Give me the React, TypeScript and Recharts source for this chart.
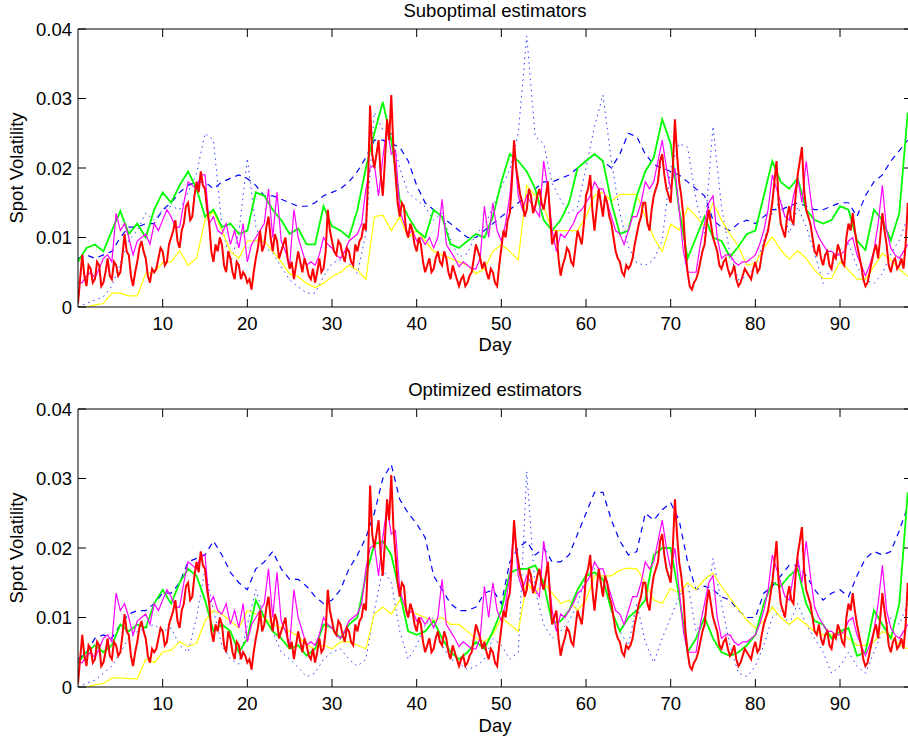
import React from 'react';
import { LineChart, Line, XAxis, YAxis, ReferenceLine } from 'recharts';

// x positions: whole days for the smooth estimators, finer steps for the noisy ones
const DAYS = Array.from({ length: 99 }, (_, i) => i);
const HALF_DAYS = Array.from({ length: 197 }, (_, i) => i / 2);
const QUARTER_DAYS = Array.from({ length: 393 }, (_, i) => i / 4);

const X_TICKS = [10, 20, 30, 40, 50, 60, 70, 80, 90];
const Y_TICKS = [0, 0.01, 0.02, 0.03, 0.04];

// all values below are in units of 0.001

// realized volatility, shared by both panels (quarter-day steps)
const RED = [
  0.5, 4, 7.5, 4.5, 3, 6, 5.5, 3.5, 4, 6.5, 6, 3, 3.5, 5, 7, 4.5, 4, 6.5, 6, 4.5,
  5, 7.5, 10.5, 8, 7.5, 4.5, 3, 5, 6.5, 8.5, 9.5, 8, 7, 4.5, 3.5, 5.5, 5, 5.5, 7, 8.5,
  8, 6, 6.5, 9, 10, 11, 12.5, 9.5, 8.5, 11, 12, 14.5, 15, 12.5, 13, 16, 18, 16.5, 19.5, 17.5,
  17, 14, 12, 8, 6.5, 9, 8, 10, 9, 6, 5, 8, 7, 5, 4, 6.5, 6, 4, 5, 4.5,
  3.5, 4, 2.5, 5, 7, 8.5, 11, 8, 9, 11.5, 13, 10, 8, 10.5, 9.5, 7, 8, 9, 10, 7,
  5.5, 6.5, 4, 6, 8, 6.5, 5, 7, 6, 4.5, 4, 5.5, 3.5, 5, 7, 5, 5.5, 8, 14, 11,
  9.5, 8, 7.5, 9.5, 9, 7.5, 6.5, 8.5, 8, 6.5, 6, 9, 8, 9.5, 10, 12, 11, 18, 29, 22,
  20, 22, 24, 19, 16, 21, 27, 24, 30.5, 23, 19, 15, 13, 15, 14.5, 11, 10, 12, 11, 9,
  8, 10, 9, 6.5, 5, 6, 7, 5, 5.5, 7, 8, 6.5, 6, 8, 7, 5, 4, 6, 5, 4,
  3, 4, 4.5, 3, 3.5, 4.5, 5, 7, 9, 8, 7, 5.5, 6.5, 5, 4, 5.5, 5, 3.5, 3, 6,
  8.5, 11, 10, 12.5, 13.5, 18, 24, 20, 18, 16, 15, 13, 14, 17, 16, 13.5, 14.5, 16, 17, 15,
  14, 16, 18, 13, 9, 10, 11, 7, 4.5, 6, 7, 8.5, 8, 6.5, 6, 8.5, 11, 10, 9, 12,
  16, 17, 19, 14, 11, 14, 17, 15, 13, 16, 15, 13, 12, 10, 8, 7, 6.5, 5, 4.5, 6,
  5.5, 6, 7, 9, 10.5, 12, 13, 15, 15, 12, 11, 14, 16, 17, 18, 21, 22, 19, 17, 16,
  15, 20, 27, 22, 18, 16, 13, 8, 5, 3, 2.5, 3.5, 4, 5, 6.5, 8, 9, 12, 14, 12,
  10, 9, 8, 6, 5.5, 6.5, 7, 5.5, 4.5, 5, 6, 4, 3, 3.5, 4.5, 5.5, 5, 4.5, 4, 5.5,
  6.5, 5, 5.5, 7.5, 9, 10, 11, 13, 15, 18, 21, 15, 12, 11, 10, 13, 14.5, 12.5, 12, 16,
  19, 21, 23, 17, 14, 13, 12, 10, 8, 7.5, 9, 7, 6, 7.5, 8, 6, 5.5, 7.5, 7, 9,
  8, 6.5, 6, 10, 12, 11, 13.5, 11, 9, 7.5, 6, 4, 3, 3.5, 5, 6.5, 8, 9, 7, 10,
  13.5, 11, 9, 6, 5, 6.5, 7, 5.5, 6, 7, 5.5, 9, 15,
];

// shared by both panels (half-day steps)
const MAGENTA = [
  3.5, 3.5, 4.5, 5, 4.2, 5.5, 7, 7.5, 6.5, 13.5,
  11, 12, 10, 7.5, 9.5, 10, 10.5, 9, 12, 11,
  12.5, 14, 13, 11.5, 11.5, 15, 18, 17.5, 17, 19,
  19, 12, 13, 11, 10.5, 12, 9, 11, 8.5, 12,
  6.5, 9, 10, 11, 12, 17, 10, 16.5, 9.5, 8,
  6, 14, 10, 8, 6, 6.5, 6, 7.5, 10, 9,
  8.5, 7.5, 7, 8, 9.5, 10, 10.5, 12, 17, 20,
  20.5, 16, 21.5, 26, 22, 22.5, 14, 12, 10.5, 11,
  9.5, 10, 9, 10, 8.5, 10, 15.5, 9, 8, 7,
  5.8, 6.5, 6, 5.5, 5.5, 7, 14.5, 10, 15, 11,
  9.5, 12, 16, 23, 16, 14, 16, 15, 14, 13,
  21, 17, 11, 8, 10.5, 10, 11, 12, 13.5, 14,
  15, 16, 18, 17, 17, 15, 13, 11, 10.5, 9,
  11, 13, 13, 15, 18, 17, 18, 21, 24, 20,
  17, 20, 14, 8, 5, 5, 5, 9, 12, 15,
  16, 10, 7, 7.5, 7.5, 6.5, 6, 6.5, 6.5, 7,
  7.5, 9, 11, 14, 19, 17, 15, 13, 12.5, 16,
  18.5, 15, 21, 16, 11.5, 10, 9, 8, 8, 7.5,
  7.5, 8, 9.5, 10, 7.5, 6, 4.5, 6, 8, 12,
  17.5, 11, 8.5, 7.5, 7, 8, 9,
];

// suboptimal estimators (daily)
const SUB_DOTTED = [
  0, 0.5, 1, 1.5, 3, 6.3, 9.6, 11, 13.5, 12.5,
  14, 14.5, 14, 16.5, 19.2, 25, 24, 11.6, 6.3, 10.6,
  21.4, 11.6, 8.7, 7.7, 5.8, 3.9, 2.9, 2, 2, 4.4,
  6.3, 6.8, 6.3, 4.8, 10.6, 28, 25.5, 25, 20, 16.4,
  15.4, 14.4, 12.5, 13.5, 9.6, 7.2, 7.7, 10.6, 11.6, 14.4,
  17.3, 19.7, 25, 39, 24.5, 23.5, 17.8, 15.4, 13.5, 14.4,
  20, 26, 30.5, 21, 13.5, 8.7, 6.3, 6, 6.8, 9.6,
  20, 23.5, 23, 15.4, 10.6, 26, 14.4, 7.7, 3.9, 4.4,
  5.8, 9.6, 13.5, 15.4, 10.6, 14.4, 11.6, 7.7, 3.4, 5.8,
  8.2, 9.2, 5.8, 3.9, 3.4, 4.8, 7.7, 9.6, 13,
];

const SUB_DASHED = [
  7, 7.5, 7, 7.5, 8, 10, 11.5, 11.5, 12, 12,
  14, 15, 16.5, 17.5, 18, 18, 17, 18, 18.5, 19,
  18.5, 17.5, 16, 16, 15.5, 15, 14.5, 14.5, 15, 16,
  16.5, 17, 18, 19.5, 21.5, 24, 24, 23.5, 23, 21,
  17.5, 15, 14, 13, 12, 11, 10, 10, 11, 12,
  13, 14, 15, 16, 17, 18, 18, 18.5, 19, 20,
  21, 22, 21, 20, 22, 25, 24.5, 22, 20.5, 20,
  19.5, 19, 18, 17, 16, 12.5, 11.5, 11, 12, 12.5,
  12, 13, 14, 14, 14.5, 15, 14.5, 14, 14, 14.5,
  15, 15, 13, 16, 18, 19, 21, 22.5, 24,
];

const SUB_YELLOW = [
  0, 0, 0.3, 0.5, 2, 2, 1.6, 1.6, 4.8, 5,
  6.4, 6.5, 8.1, 6, 7, 12.5, 13.7, 11, 8, 7,
  9.5, 9.5, 9.5, 8, 6.5, 4.8, 4.4, 3.4, 2.8, 3.4,
  4.4, 5, 6, 5.3, 4, 13, 13.2, 11, 13, 10,
  11, 9.5, 8, 7.5, 7, 6.5, 6, 4.8, 5.5, 8,
  9, 8, 6.8, 17.5, 16, 14.5, 11, 11, 11, 11,
  13, 16, 16.5, 15.2, 16.2, 16.2, 16.2, 13, 10, 8,
  11.9, 11.1, 14.3, 13, 11.6, 15, 12.5, 10.5, 8.7, 6,
  6.3, 8.5, 10.1, 8.2, 6.9, 8.1, 7, 5.3, 4.1, 4.1,
  6.5, 5.3, 4, 4, 5.8, 7.7, 6.8, 5.5, 4.4,
];

const SUB_GREEN = [
  6.5, 8.5, 9, 8, 11, 13.8, 10.5, 12, 10, 14,
  16.5, 15, 17.5, 19.5, 17, 13, 14, 11.5, 12, 10.5,
  11, 16.5, 16, 14, 12.5, 10.5, 11.3, 9, 9, 14.5,
  11.6, 11, 10, 14, 20, 25, 29.5, 24, 15.5, 13,
  11, 10, 14, 13, 9, 8.5, 9.5, 10.5, 10, 13,
  18, 22, 21, 19.5, 17, 12.5, 11, 12.5, 15, 20,
  21, 22, 21, 15, 10.5, 11, 16, 19.5, 21.5, 27,
  23.5, 14, 7, 10, 13, 10, 9.5, 7.2, 8.7, 10.5,
  11, 16, 21, 18, 17, 18.5, 14, 12.5, 12, 12.5,
  14.5, 14, 9.6, 8.2, 14, 12.5, 9.6, 13.5, 28,
];

// optimized estimators (daily)
const OPT_DOTTED = [
  0, 0.5, 1, 2, 3, 5, 7, 8, 8.5, 9,
  8, 8.5, 6, 5, 10, 17, 11, 6, 4, 3.3,
  9, 14, 10, 8, 5, 4, 2.8, 1.5, 2, 4,
  5, 5.5, 4, 3, 4, 11, 17, 15, 8, 4,
  6, 9, 10, 6, 4, 3.5, 2.5, 3, 4, 7,
  6, 4, 5, 31, 14, 9, 7, 8, 9.5, 12,
  16, 17, 16, 11, 8, 6, 12, 6.5, 3.5, 7,
  10, 13, 15, 8, 10, 18.5, 12, 6, 2, 1.5,
  3, 6, 10, 11, 9, 12, 9, 7, 5, 2,
  3, 5, 3, 2, 5, 8, 10, 9, 12,
];

const OPT_DASHED = [
  4, 5, 7, 7.5, 7, 9, 10.5, 11, 11, 12,
  13.5, 13.5, 15, 18, 18.5, 19, 21, 19, 16.5, 15,
  14, 17, 18, 19.5, 17, 15.5, 15.5, 14.5, 13, 12,
  12.5, 14, 17, 19, 21.5, 25, 30, 32, 27, 25,
  23.5, 21.5, 16, 14, 12, 11, 11, 11.5, 13.5, 14,
  12, 18, 20, 21, 19, 20, 18, 18, 19, 22,
  25, 28, 28, 24, 21, 19, 19.5, 25, 24, 25.5,
  26.5, 24, 18, 14, 14.5, 14, 13, 12.5, 11, 10,
  10, 13.5, 14.5, 16, 17.5, 17.5, 16, 14, 12.5, 13.5,
  14, 13, 16, 18.5, 19.5, 19, 19.5, 22.5, 26,
];

const OPT_YELLOW = [
  0, 0, 0.3, 0.5, 1.3, 1.3, 1.2, 1.2, 4, 3.5,
  5, 5.3, 6.5, 5.8, 6.3, 9.5, 11, 10.5, 9.5, 8.5,
  11, 10.5, 10, 9, 8.5, 8, 7.3, 6, 5.5, 6,
  5.5, 6.5, 6.5, 6, 5.5, 10.5, 11.5, 10.5, 12.5, 11,
  10.5, 10, 9.5, 10, 9, 9, 8, 7, 6.5, 7.5,
  10, 9, 8, 15, 13.5, 15, 13.5, 12, 12.5, 11,
  12.5, 16, 16, 16, 16.8, 17.1, 17, 15, 12.5, 12,
  14.2, 13.5, 15, 14, 15.5, 16.4, 14.5, 12.8, 11.2, 9.6,
  8.5, 9.5, 11.5, 10, 9, 10, 9, 8, 7.5, 7.5,
  8, 7, 6, 6, 6.5, 8, 7.5, 6, 5.5,
];

const OPT_GREEN = [
  3.5, 5, 6, 5, 6, 9, 8, 9, 8.5, 12,
  14, 12, 15, 17, 16, 12.5, 8, 9, 8, 5,
  7, 12.5, 10, 8, 7, 5.5, 6, 4.5, 5.5, 9,
  8.5, 7, 9, 10, 16, 20.5, 21, 19, 13.5, 8,
  7.5, 8, 9.5, 7, 5, 4, 5, 6.5, 5.5, 8,
  11, 16.4, 17, 17, 17.5, 15, 9.2, 9.5, 11, 14,
  16, 16.5, 15.5, 11, 8, 10, 11, 12.5, 19, 20,
  20, 13, 5, 7, 10, 7, 5, 4.5, 5, 6,
  7.5, 12, 15, 14.5, 16, 17, 12, 9.5, 9, 7,
  8, 8.5, 4.5, 5, 11, 9, 7, 12, 28,
];

const FONT = '"Liberation Sans", Arial, Helvetica, sans-serif';
const FS = 18.5;
const PLOT_LEFT = 78;
const PLOT_RIGHT = 912;
const PLOT_H = 278;

const toPoints = (xs: number[], vs: number[]) => xs.map((x, i) => ({ x, y: vs[i] / 1000 }));

const XTick = ({ x, y, payload }: any) => (
  <g>
    <line x1={x} x2={x} y1={y} y2={y - 8} stroke="#000" />
    <line x1={x} x2={x} y1={y - PLOT_H} y2={y - PLOT_H + 8} stroke="#000" />
    <text x={x} y={y + 23} textAnchor="middle" fontFamily={FONT} fontSize={FS} fill="#000">
      {payload.value}
    </text>
  </g>
);

const YTick = ({ x, y, payload }: any) => (
  <g>
    <line x1={x} x2={x + 8} y1={y} y2={y} stroke="#000" />
    <line x1={PLOT_RIGHT - 8} x2={PLOT_RIGHT} y1={y} y2={y} stroke="#000" />
    <text x={x - 6} y={y + 6.5} textAnchor="end" fontFamily={FONT} fontSize={FS} fill="#000">
      {payload.value === 0 ? '0' : payload.value.toFixed(2)}
    </text>
  </g>
);

type PanelProps = {
  top: number;
  height: number;
  dotted: number[];
  dashed: number[];
  yellow: number[];
  green: number[];
};

const Panel: React.FC<PanelProps> = ({ top, height, dotted, dashed, yellow, green }) => (
  <div style={{ position: 'absolute', left: 0, top, width: PLOT_RIGHT, height }}>
    <LineChart width={PLOT_RIGHT} height={height} margin={{ top: 29, right: 0, bottom: 0, left: 0 }}>
      <XAxis
        type="number"
        dataKey="x"
        domain={[0, 98.5]}
        ticks={X_TICKS}
        interval={0}
        allowDataOverflow
        height={height - 29 - PLOT_H}
        tickSize={0}
        tickMargin={0}
        tickLine={false}
        axisLine={{ stroke: '#000' }}
        tick={(p: any) => <XTick {...p} />}
      />
      <YAxis
        type="number"
        domain={[0, 0.04]}
        ticks={Y_TICKS}
        interval={0}
        allowDataOverflow
        width={PLOT_LEFT}
        tickSize={0}
        tickMargin={0}
        tickLine={false}
        axisLine={{ stroke: '#000' }}
        tick={(p: any) => <YTick {...p} />}
      />
      <ReferenceLine y={0.04} stroke="#000" />
      <Line data={toPoints(DAYS, dotted)} dataKey="y" stroke="#2a3cff" strokeWidth={1} strokeDasharray="1.5 4" dot={false} isAnimationActive={false} />
      <Line data={toPoints(DAYS, dashed)} dataKey="y" stroke="#0000ff" strokeWidth={1.2} strokeDasharray="6 5" dot={false} isAnimationActive={false} />
      <Line data={toPoints(DAYS, yellow)} dataKey="y" stroke="#ffff00" strokeWidth={1.2} dot={false} isAnimationActive={false} />
      <Line data={toPoints(DAYS, green)} dataKey="y" stroke="#00ff00" strokeWidth={1.8} dot={false} isAnimationActive={false} />
      <Line data={toPoints(HALF_DAYS, MAGENTA)} dataKey="y" stroke="#ff00ff" strokeWidth={1.2} dot={false} isAnimationActive={false} />
      <Line data={toPoints(QUARTER_DAYS, RED)} dataKey="y" stroke="#ff0000" strokeWidth={2} dot={false} isAnimationActive={false} />
    </LineChart>
  </div>
);

const App: React.FC = () => (
  <div style={{ position: 'absolute', left: 0, top: 0, width: 908, height: 740, overflow: 'hidden', background: '#fff' }}>
    <Panel top={0} height={380} dotted={SUB_DOTTED} dashed={SUB_DASHED} yellow={SUB_YELLOW} green={SUB_GREEN} />
    <Panel top={380} height={360} dotted={OPT_DOTTED} dashed={OPT_DASHED} yellow={OPT_YELLOW} green={OPT_GREEN} />
    <svg width={908} height={740} style={{ position: 'absolute', left: 0, top: 0, pointerEvents: 'none' }}>
      <g fontFamily={FONT} fontSize={FS} fill="#000" textAnchor="middle">
        <text x={495} y={17}>Suboptimal estimators</text>
        <text x={495} y={351}>Day</text>
        <text x={23} y={168} transform="rotate(-90 23 168)">Spot Volatility</text>
        <text x={495} y={396}>Optimized estimators</text>
        <text x={495} y={732}>Day</text>
        <text x={23} y={548} transform="rotate(-90 23 548)">Spot Volatility</text>
      </g>
    </svg>
  </div>
);

export default App;
